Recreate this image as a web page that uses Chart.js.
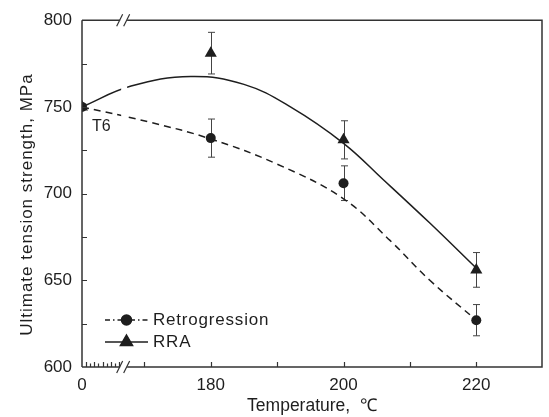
<!DOCTYPE html>
<html><head><meta charset="utf-8">
<script src="https://cdn.jsdelivr.net/npm/chart.js@4"></script>
<style>html,body{margin:0;padding:0;background:#fff}#wrap{width:549px;height:417px}</style>
</head><body><div id="wrap"><canvas id="c" width="549" height="417"></canvas></div>
<script>
// ---- data ----
const temperatures = [0, 180, 200, 220];
const xTickLabels = ['0', '180', '200', '220'];
const retrogression = [750, 732, 706, 627];
const retrogressionErr = [0, 11, 10, 9];
const rra = [750, 781, 731, 656];
const rraErr = [0, 12, 11, 10];
// fitted curves (axis units; 0 = origin before the axis break)
const retroFitX = [0, 171, 180, 190, 200, 207, 213, 220];
const retroFitY = [750, 741, 731.5, 717, 697, 673, 650, 627];
const rraFitX = [0, 168, 177, 185, 192, 200, 206, 213, 220];
const rraFitY = [750, 762, 767.5, 763, 750, 729, 708, 683, 657];
const yTickValues = [600, 650, 700, 750, 800];
const yMinorStep = 25;
const xMinorValues = [170, 190, 210];

// axis with a break: temperature 0 is drawn at AXIS_ZERO
const AXIS_ZERO = 160.6, AXIS_MAX = 229.9, BREAK_AT = 166.8;
const toAxis = t => (t === 0 ? AXIS_ZERO : t);

const INK = '#1e1e1e';
const FONT = 'Liberation Sans, Arial, sans-serif';

const pts = (xs, ys) => xs.map((t, i) => ({x: toAxis(t), y: ys[i]}));

const errs = [
  {vals: retrogression, err: retrogressionErr},
  {vals: rra, err: rraErr}
];

const decor = {
  id: 'decor',
  beforeDatasetsDraw(chart) {
    const {ctx, scales: {x, y}} = chart;
    ctx.save();
    ctx.strokeStyle = '#444';
    ctx.lineWidth = 1;
    errs.forEach(s => {
      temperatures.forEach((t, i) => {
        if (!s.err[i]) return;
        const px = Math.round(x.getPixelForValue(toAxis(t))) + 0.5;
        const y1 = y.getPixelForValue(s.vals[i] + s.err[i]);
        const y2 = y.getPixelForValue(s.vals[i] - s.err[i]);
        ctx.beginPath();
        ctx.moveTo(px, y1); ctx.lineTo(px, y2);
        ctx.moveTo(px - 3.5, y1); ctx.lineTo(px + 3.5, y1);
        ctx.moveTo(px - 3.5, y2); ctx.lineTo(px + 3.5, y2);
        ctx.stroke();
      });
    });
    ctx.restore();
  },
  afterDatasetsDraw(chart) {
    // gap in the curves at the axis break
    const {ctx, chartArea: a, scales: {x, y}} = chart;
    const bx = x.getPixelForValue(BREAK_AT);
    ctx.save();
    ctx.fillStyle = '#fff';
    ctx.fillRect(bx - 2, a.top + 2, 6, y.getPixelForValue(725) - a.top);
    ctx.restore();
  },
  afterDraw(chart) {
    const {ctx, chartArea: a, scales: {x, y}} = chart;
    ctx.save();
    ctx.strokeStyle = '#333';
    ctx.lineWidth = 1.5;
    const bx = x.getPixelForValue(BREAK_AT);
    // frame with breaks
    ctx.beginPath();
    ctx.moveTo(a.left, a.top); ctx.lineTo(a.left, a.bottom);
    ctx.moveTo(a.left, a.bottom); ctx.lineTo(bx - 3, a.bottom);
    ctx.moveTo(bx + 4, a.bottom); ctx.lineTo(a.right, a.bottom);
    ctx.lineTo(a.right, a.top);
    ctx.lineTo(bx + 4, a.top);
    ctx.moveTo(bx - 3, a.top); ctx.lineTo(a.left, a.top);
    ctx.stroke();
    // break slashes
    ctx.lineWidth = 1.2;
    [a.bottom, a.top].forEach(yy => {
      ctx.beginPath();
      [-3.5, 3.5].forEach(d => {
        ctx.moveTo(bx + d - 3, yy + 6);
        ctx.lineTo(bx + d + 3, yy - 6);
      });
      ctx.stroke();
    });
    // inward y ticks
    ctx.lineWidth = 1.2;
    ctx.beginPath();
    for (let v = y.min + yMinorStep; v < y.max; v += yMinorStep) {
      const py = Math.round(y.getPixelForValue(v)) + 0.5;
      ctx.moveTo(a.left, py); ctx.lineTo(a.left + 5, py);
    }
    // inward x ticks
    temperatures.concat(xMinorValues).forEach(t => {
      if (t === 0) return;
      const px = Math.round(x.getPixelForValue(t)) + 0.5;
      ctx.moveTo(px, a.bottom); ctx.lineTo(px, a.bottom - 5);
    });
    // small ticks next to the origin
    for (let k = 1; k <= 9; k++) {
      const px = Math.round(x.getPixelForValue(AXIS_ZERO + k * 0.62)) + 0.5;
      ctx.moveTo(px, a.bottom); ctx.lineTo(px, a.bottom - (k % 2 ? 5 : 3.5));
    }
    ctx.stroke();

    ctx.fillStyle = INK;
    ctx.textBaseline = 'middle';
    // y axis title
    ctx.save();
    ctx.translate(27, (a.top + a.bottom) / 2 + 11);
    ctx.rotate(-Math.PI / 2);
    ctx.textAlign = 'center';
    ctx.font = '17px ' + FONT;
    ctx.letterSpacing = '1px';
    ctx.fillText('Ultimate tension strength, MPa', 0, 0);
    ctx.restore();

    // T6 annotation
    ctx.font = '16px ' + FONT;
    ctx.textAlign = 'left';
    ctx.fillText('T6', x.getPixelForValue(AXIS_ZERO) + 10, y.getPixelForValue(750) + 20);

    // legend
    const lx = a.left + 23, lw = 43;
    const rows = [
      {label: 'Retrogression', dash: [5, 3, 1.5, 3], style: 'circle', r: 5, py: a.bottom - 47},
      {label: 'RRA', dash: [], style: 'triangle', r: 7, py: a.bottom - 25}
    ];
    ctx.font = '17px ' + FONT;
    ctx.letterSpacing = '0.8px';
    rows.forEach(rw => {
      ctx.strokeStyle = INK;
      ctx.lineWidth = 1.5;
      ctx.setLineDash(rw.dash);
      ctx.beginPath();
      ctx.moveTo(lx, rw.py); ctx.lineTo(lx + lw, rw.py);
      ctx.stroke();
      ctx.setLineDash([]);
      Chart.helpers.drawPoint(ctx, {pointStyle: rw.style, radius: rw.r, borderWidth: 1}, lx + lw / 2, rw.py);
      ctx.fillStyle = INK;
      ctx.fill();
      ctx.fillText(rw.label, lx + lw + 5, rw.py);
    });
    ctx.restore();
  }
};

new Chart(document.getElementById('c'), {
  type: 'scatter',
  data: {
    datasets: [
      {label: 'Retrogression fit', data: pts(retroFitX, retroFitY), showLine: true,
       borderColor: INK, borderWidth: 1.5, borderDash: [7, 5], pointRadius: 0,
       tension: 0.4, fill: false},
      {label: 'RRA fit', data: pts(rraFitX, rraFitY), showLine: true,
       borderColor: INK, borderWidth: 1.5, pointRadius: 0,
       tension: 0.4, fill: false},
      {label: 'Retrogression', data: pts(temperatures, retrogression),
       pointStyle: 'circle', pointRadius: 5, backgroundColor: INK, borderColor: INK, borderWidth: 0, clip: 0},
      {label: 'RRA', data: pts(temperatures, rra),
       pointStyle: 'triangle', pointRadius: 7, backgroundColor: INK, borderColor: INK, borderWidth: 0, clip: 0}
    ]
  },
  options: {
    responsive: false,
    animation: false,
    devicePixelRatio: 1,
    layout: {padding: {left: 0, right: 6, top: 20, bottom: 0}},
    plugins: {legend: {display: false}, tooltip: {enabled: false}},
    scales: {
      x: {
        type: 'linear', min: AXIS_ZERO, max: AXIS_MAX,
        afterBuildTicks: s => { s.ticks = temperatures.map(t => ({value: toAxis(t)})); },
        afterFit: s => { s.height = 50; },
        ticks: {
          color: INK, font: {family: FONT, size: 17}, padding: 8, maxRotation: 0,
          callback: v => { const i = temperatures.findIndex(t => toAxis(t) === v); return i >= 0 ? xTickLabels[i] : ''; }
        },
        grid: {display: false, drawTicks: false},
        border: {display: false},
        title: {display: true, text: 'Temperature,  ℃', color: INK, font: {family: FONT, size: 17.5}, padding: {top: 0, bottom: 0}}
      },
      y: {
        min: 600, max: 800,
        afterBuildTicks: s => { s.ticks = yTickValues.map(v => ({value: v})); },
        afterFit: s => { s.width = 82; },
        ticks: {color: INK, font: {family: FONT, size: 17}, padding: 10},
        grid: {display: false, drawTicks: false},
        border: {display: false},
        title: {display: false}
      }
    }
  },
  plugins: [decor]
});
</script>
</body></html>
